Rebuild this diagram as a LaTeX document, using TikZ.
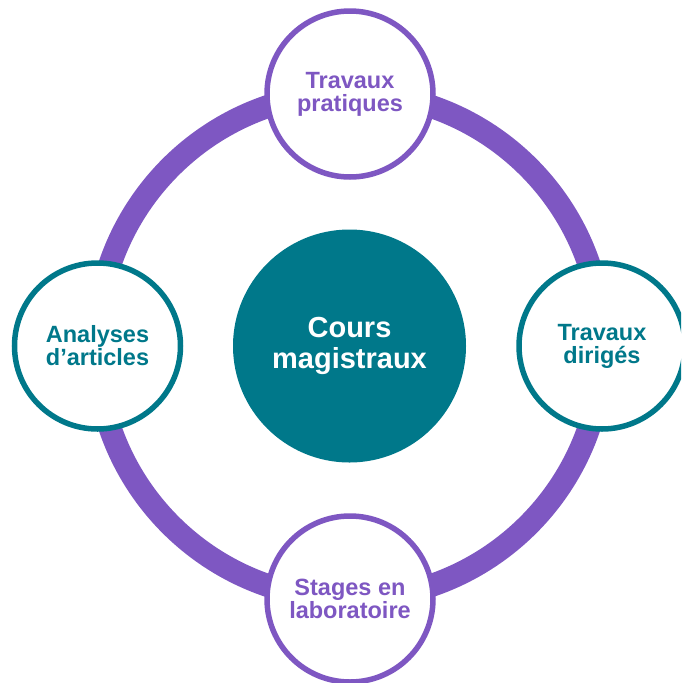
\documentclass[tikz,border=0pt]{standalone}
\usepackage{fontspec}
\setmainfont{Liberation Sans}
\definecolor{ringpurple}{HTML}{7E57C2}
\definecolor{tealc}{HTML}{00788A}
\tikzset{
  ring/.style={draw=ringpurple, line width=23pt},
  satpurple/.style={circle, draw=ringpurple, fill=white, line width=5.5pt, minimum size=166pt, inner sep=0pt, align=center, text=ringpurple, font=\bfseries\fontsize{23.5}{23}\selectfont},
  satteal/.style={circle, draw=tealc, fill=white, line width=5.5pt, minimum size=166pt, inner sep=0pt, align=center, text=tealc, font=\bfseries\fontsize{23.5}{23}\selectfont},
  hub/.style={circle, fill=tealc, minimum size=233pt, inner sep=0pt, align=center, text=white, font=\bfseries\fontsize{29}{31}\selectfont}
}
\begin{document}
\begin{tikzpicture}[x=1pt, y=-1pt]
\useasboundingbox (0,0) rectangle (681,683);
\clip (0,0) rectangle (681,683);
\node[hub] (hub) at (349.5,346) {Cours\\magistraux};
\draw[ring] (hub.center) circle (253);
\node[satpurple] (tp) at (350,94) {Travaux\\pratiques};
\node[satteal] (td) at (602,346) {Travaux\\dirigés};
\node[satpurple] (st) at (350,599) {Stages en\\laboratoire};
\node[satteal] (an) at (97.5,346) {Analyses\\d’articles};
\end{tikzpicture}
\end{document}
